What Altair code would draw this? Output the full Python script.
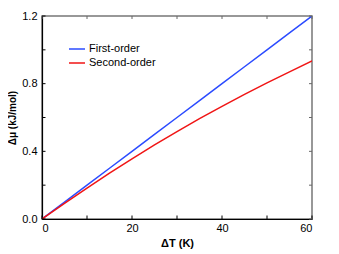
import altair as alt
import pandas as pd

# ---- data ----
delta_T = [0, 5, 10, 15, 20, 25, 30, 35, 40, 45, 50, 55, 60]
first_order = [0.0, 0.1, 0.2, 0.3, 0.4, 0.5, 0.6, 0.7, 0.8, 0.9, 1.0, 1.1, 1.2]
second_order = [0.0, 0.093, 0.183, 0.271, 0.356, 0.438, 0.517, 0.593, 0.666, 0.737, 0.805, 0.870, 0.935]
series_names = ["First-order", "Second-order"]
series_colors = ["#2b4bff", "#f01515"]

x_major = [0, 20, 40, 60]
x_minor = [10, 30, 50]
y_major = [0.0, 0.4, 0.8, 1.2]
y_minor = [0.2, 0.6, 1.0]

W, H = 270, 203
FONT = "Liberation Sans"

rows = []
for t, a, b in zip(delta_T, first_order, second_order):
    rows.append({"T": t, "mu": a, "series": series_names[0]})
    rows.append({"T": t, "mu": b, "series": series_names[1]})
df = pd.DataFrame(rows)

xscale = alt.Scale(domain=[0, 60], nice=False, zero=False)
yscale = alt.Scale(domain=[0, 1.2], nice=False, zero=False)

lines = alt.Chart(df).mark_line(strokeWidth=1.5, clip=True).encode(
    x=alt.X("T:Q", scale=xscale,
            axis=alt.Axis(values=x_major, title="ΔT (K)", format="d",
                          labelPadding=3, titlePadding=4)),
    y=alt.Y("mu:Q", scale=yscale,
            axis=alt.Axis(values=y_major, title="Δμ (kJ/mol)", format=".1f",
                          labelPadding=5, titlePadding=4, titleFontSize=10)),
    color=alt.Color("series:N",
                    scale=alt.Scale(domain=series_names, range=series_colors),
                    legend=alt.Legend(title=None, orient="none", legendX=26, legendY=24,
                                      symbolType="stroke", symbolSize=256,
                                      symbolStrokeWidth=1.5, labelFont=FONT,
                                      labelFontSize=11, labelColor="black",
                                      labelOffset=3, rowPadding=-2, padding=0)),
)

# inward tick marks
xt = pd.DataFrame({"T": x_major + x_minor, "len": [4] * len(x_major) + [3] * len(x_minor)})
yt = pd.DataFrame({"mu": y_major + y_minor, "len": [4] * len(y_major) + [3] * len(y_minor)})

bottom_ticks = alt.Chart(xt).mark_rule(color="black", strokeWidth=1).encode(
    x=alt.X("T:Q", scale=xscale), y=alt.value(H), y2=alt.value(H - 3.5))
top_ticks = alt.Chart(xt).mark_rule(color="#666666", strokeWidth=1).encode(
    x=alt.X("T:Q", scale=xscale), y=alt.value(0), y2=alt.value(3))
left_ticks = alt.Chart(yt).mark_rule(color="black", strokeWidth=1).encode(
    y=alt.Y("mu:Q", scale=yscale), x=alt.value(0), x2=alt.value(3.5))
right_ticks = alt.Chart(yt).mark_rule(color="#666666", strokeWidth=1).encode(
    y=alt.Y("mu:Q", scale=yscale), x=alt.value(W), x2=alt.value(W - 3))

chart = alt.layer(lines, bottom_ticks, top_ticks, left_ticks, right_ticks).properties(
    width=W, height=H,
    autosize=alt.AutoSizeParams(type="none"),
    padding={"left": 34, "top": 8, "right": 19, "bottom": 35},
).configure_view(
    stroke="#777777", strokeWidth=1.5
).configure_axis(
    grid=False, ticks=False, tickSize=0, domainColor="black", domainWidth=1.2,
    labelFont=FONT, labelFontSize=11, labelColor="black",
    titleFont=FONT, titleFontSize=11, titleFontWeight="bold", titleColor="black",
)

chart.save("out.html", embed_options={"renderer": "svg", "actions": False})
